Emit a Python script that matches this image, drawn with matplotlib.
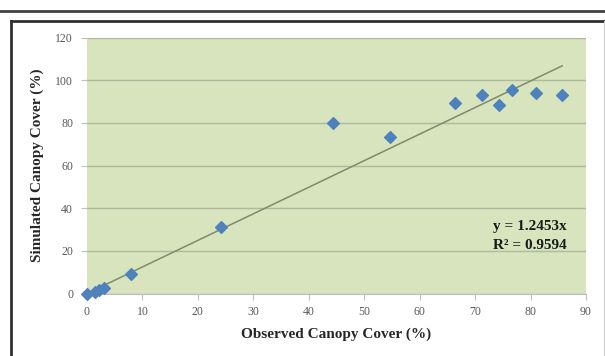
import numpy as np
import matplotlib.pyplot as plt
from matplotlib.lines import Line2D

# observed vs simulated canopy cover (%)
observed = [0, 1.5, 2.2, 3.0, 7.9, 24.2, 44.4, 54.7, 66.3, 71.3, 74.3, 76.6, 81.0, 85.7]
simulated = [0, 0.6, 1.5, 2.8, 9.1, 31.0, 80.1, 73.2, 89.2, 93.2, 88.2, 95.4, 94.1, 93.1]
slope = 1.2453
r2 = 0.9594
xticks = list(range(0, 91, 10))
yticks = list(range(0, 121, 20))

plt.rcParams['font.family'] = ['Liberation Serif', 'DejaVu Serif']

fig = plt.figure(figsize=(6.05, 3.56), dpi=100)
ax = fig.add_axes([87 / 605, 1 - 293.5 / 356, (586 - 87) / 605, (293.5 - 37.5) / 356])
ax.set_facecolor('#d7e4bd')

ax.set_xlim(0, 90)
ax.set_ylim(0, 120)
ax.set_xticks(xticks)
ax.set_yticks(yticks)
ax.grid(axis='y', color='#b0b8a0', linewidth=1)
ax.set_axisbelow(True)
for s in ['top', 'right', 'left']:
    ax.spines[s].set_visible(False)
ax.spines['bottom'].set_color('#bfbfbf')
ax.tick_params(axis='x', colors='#bfbfbf', labelcolor='#595959', labelsize=8.5, length=4, direction='out', pad=5)
ax.tick_params(axis='y', colors='#bfbfbf', labelcolor='#595959', labelsize=8.5, length=4, direction='out', pad=6)

# trend line through origin
xfit = np.array([0, max(observed)])
ax.plot(xfit, slope * xfit, color='#7f8a6a', linewidth=1.1, zorder=2)
ax.scatter(observed, simulated, marker='D', s=36, color='#4f81bd', zorder=3, clip_on=False)

ax.text(0.962, 0.262, 'y = %.4fx' % slope, transform=ax.transAxes, ha='right', va='center',
        fontsize=11, fontweight='bold', color='#1a1a1a')
ax.text(0.962, 0.188, 'R² = %.4f' % r2, transform=ax.transAxes, ha='right', va='center',
        fontsize=11, fontweight='bold', color='#1a1a1a')

ax.set_xlabel('Observed Canopy Cover (%)', fontsize=11, fontweight='bold', color='#262626', labelpad=7)
ax.set_ylabel('Simulated Canopy Cover (%)', fontsize=11, fontweight='bold', color='#262626', labelpad=8)

# outer frame lines
fig.add_artist(Line2D([0, 1], [1 - 10.5 / 356, 1 - 10.5 / 356], color='#404040', linewidth=2))
fig.add_artist(Line2D([11 / 605, 1], [1 - 20.5 / 356, 1 - 20.5 / 356], color='#303030', linewidth=2))
fig.add_artist(Line2D([11 / 605, 11 / 605], [0, 1 - 20.5 / 356], color='#303030', linewidth=2))
fig.add_artist(Line2D([603.5 / 605, 603.5 / 605], [0, 1 - 20.5 / 356], color='#c8c8c8', linewidth=0.8))

fig.savefig('out.png', dpi=100)
